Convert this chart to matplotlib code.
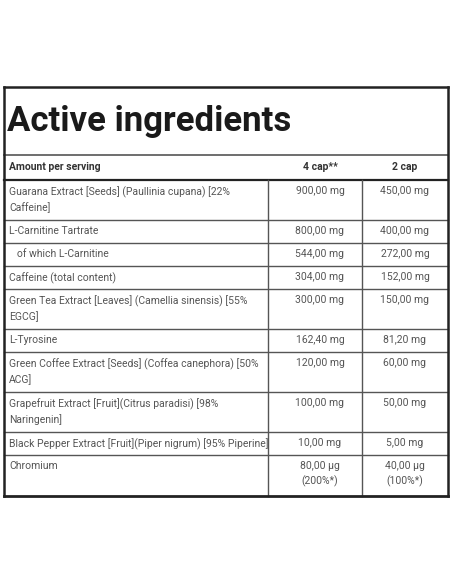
import matplotlib.pyplot as plt
from matplotlib.lines import Line2D

W, H = 452, 584
FONT = ['Liberation Sans Narrow', 'Roboto', 'DejaVu Sans']

title = "Active ingredients"
headers = ["Amount per serving", "4 cap**", "2 cap"]
names = [
    "Guarana Extract [Seeds] (Paullinia cupana) [22%\nCaffeine]",
    "L-Carnitine Tartrate",
    "   of which L-Carnitine",
    "Caffeine (total content)",
    "Green Tea Extract [Leaves] (Camellia sinensis) [55%\nEGCG]",
    "L-Tyrosine",
    "Green Coffee Extract [Seeds] (Coffea canephora) [50%\nACG]",
    "Grapefruit Extract [Fruit](Citrus paradisi) [98%\nNaringenin]",
    "Black Pepper Extract [Fruit](Piper nigrum) [95% Piperine]",
    "Chromium",
]
cap4 = ["900,00 mg", "800,00 mg", "544,00 mg", "304,00 mg", "300,00 mg",
        "162,40 mg", "120,00 mg", "100,00 mg", "10,00 mg", "80,00 µg\n(200%*)"]
cap2 = ["450,00 mg", "400,00 mg", "272,00 mg", "152,00 mg", "150,00 mg",
        "81,20 mg", "60,00 mg", "50,00 mg", "5,00 mg", "40,00 µg\n(100%*)"]

fig = plt.figure(figsize=(W / 100, H / 100), dpi=100)
fig.patch.set_facecolor('white')


def px(x, y):
    return x / W, 1 - y / H


def hline(y, x0=4, x1=448, lw=1.0, c='#555555'):
    a, b = px(x0, y)
    d, _ = px(x1, y)
    fig.add_artist(Line2D([a, d], [b, b], lw=lw, color=c))


def vline(x, y0, y1, lw=1.0, c='#555555'):
    a, b = px(x, y0)
    _, d = px(x, y1)
    fig.add_artist(Line2D([a, a], [b, d], lw=lw, color=c))


def txt(x, y, s, **kw):
    fig.text(*px(x, y), s, family=FONT, va='top', linespacing=1.5, **kw)


top, bottom = 87, 496
col1, col2 = 268, 362
fs = 7.5
txt(7, 105, title, fontsize=25, fontweight='bold', color='#1a1a1a')

# header
hline(155, lw=1.2)
txt(9, 162, headers[0], fontsize=fs, fontweight='bold', color='#333333')
txt(320, 162, headers[1], fontsize=fs, fontweight='bold', color='#333333', ha='center')
txt(405, 162, headers[2], fontsize=fs, fontweight='bold', color='#333333', ha='center')
hline(180, lw=1.6, c='#222222')

y = 180
for n, a, b in zip(names, cap4, cap2):
    lines = max(n.count('\n'), a.count('\n')) + 1
    h = 23 if lines == 1 else 40
    txt(9, y + 6, n, fontsize=fs, color='#555555')
    txt(320, y + 6, a, fontsize=fs, color='#555555', ha='center')
    txt(405, y + 6, b, fontsize=fs, color='#555555', ha='center')
    y += h
    if y < bottom - 2:
        hline(y, lw=1.0)

vline(col1, 180, bottom)
vline(col2, 180, bottom)

# outer frame
c = '#222222'
hline(top, lw=1.8, c=c)
hline(bottom, lw=2.0, c=c)
vline(4, top, bottom, lw=1.8, c=c)
vline(448, top, bottom, lw=1.8, c=c)

fig.savefig('out.png', dpi=100)
